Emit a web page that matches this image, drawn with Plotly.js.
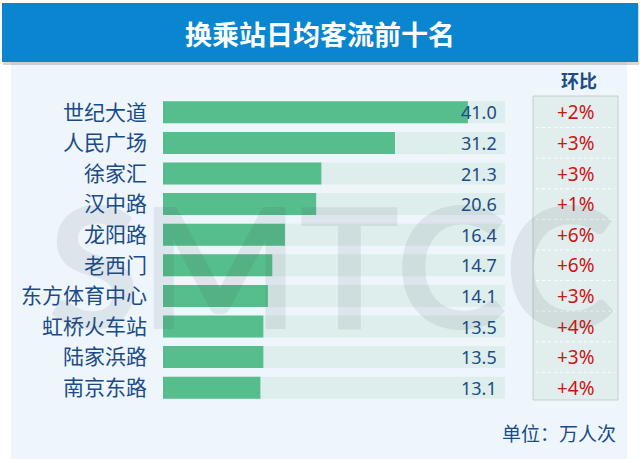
<!DOCTYPE html>
<html>
<head>
<meta charset="utf-8">
<script src="https://cdn.plot.ly/plotly-3.0.1.min.js"></script>
<style>html,body{margin:0;padding:0;background:#fff;}#chart{width:640px;height:459px;}</style>
</head>
<body>
<div id="chart"></div>
<script>
// ---- data ----
const stations = ['世纪大道','人民广场','徐家汇','汉中路','龙阳路','老西门','东方体育中心','虹桥火车站','陆家浜路','南京东路'];
const flows = [41.0, 31.2, 21.3, 20.6, 16.4, 14.7, 14.1, 13.5, 13.5, 13.1];
const changes = ['+2%','+3%','+3%','+1%','+6%','+6%','+3%','+4%','+3%','+4%'];
const trackMax = 46;
const chartTitle = '换乘站日均客流前十名';
const changeHeader = '环比';
const unitNote = '单位：万人次';
const watermark = 'SMTCC';

// ---- layout geometry (pixels) ----
const W = 640, H = 459;
const L = 163, R = 505, T = 97, B = 403;
const px = v => (v - L) / (R - L);
const py = v => (B - v) / (B - T);

const CJK = '"Noto Sans CJK SC", "Noto Sans", sans-serif';
const NUM = '"Noto Sans", "Noto Sans CJK SC", sans-serif';
const blueText = '#1b4b88';
const redText = '#cc1414';

const trackTrace = {
  type: 'bar', orientation: 'h',
  y: stations, x: stations.map(() => trackMax),
  marker: {color: 'rgb(222,238,236)'},
  hoverinfo: 'skip', showlegend: false
};
const barTrace = {
  type: 'bar', orientation: 'h',
  y: stations, x: flows,
  marker: {color: 'rgb(86,189,140)'},
  showlegend: false
};

const shapes = [
  {type:'rect', xref:'paper', yref:'paper', x0:px(11), x1:px(627), y0:py(470), y1:py(62),
   fillcolor:'#eef6fc', line:{width:0}, layer:'below'},
  {type:'rect', xref:'paper', yref:'paper', x0:px(3), x1:px(639), y0:py(65), y1:py(5),
   fillcolor:'rgba(0,0,0,0.16)', line:{width:0}, layer:'below'},
  {type:'rect', xref:'paper', yref:'paper', x0:px(2), x1:px(638), y0:py(62), y1:py(3),
   fillcolor:'#0a86d0', line:{width:0}, layer:'below'},
  {type:'rect', xref:'paper', yref:'paper', x0:px(533), x1:px(618), y0:py(400), y1:py(96),
   fillcolor:'rgb(225,238,237)', line:{width:1, color:'rgb(196,206,206)'}, layer:'below'}
];
for (let i = 0; i < stations.length - 1; i++) {
  shapes.push({type:'line', xref:'paper', yref:'y', x0:px(536), x1:px(615), y0:i+0.5, y1:i+0.5,
    line:{color:'rgba(255,255,255,0.95)', width:1, dash:'dot'}, layer:'below'});
}

const annotations = [
  {text: chartTitle, xref:'paper', yref:'paper', x:px(320), y:py(33), xanchor:'center', yanchor:'middle',
   showarrow:false, font:{family:CJK, size:27, color:'#ffffff', weight:'bold'}},
  {text: changeHeader, xref:'paper', yref:'paper', x:px(579), y:py(80), xanchor:'center', yanchor:'middle',
   showarrow:false, font:{family:CJK, size:18, color:blueText, weight:'bold'}},
  {text: unitNote, xref:'paper', yref:'paper', x:px(618), y:py(432), xanchor:'right', yanchor:'middle',
   showarrow:false, font:{family:CJK, size:19, color:blueText}}
];
stations.forEach((s, i) => {
  annotations.push({text: flows[i].toFixed(1), xref:'x', yref:'y', x:trackMax, y:s, xanchor:'right', yanchor:'middle',
    xshift:-6, showarrow:false, font:{family:NUM, size:18, color:blueText}});
  annotations.push({text: changes[i], xref:'paper', yref:'y', x:px(576), y:s, xanchor:'center', yanchor:'middle',
    showarrow:false, font:{family:NUM, size:19, color:redText}});
});
annotations.push({text: watermark, xref:'paper', yref:'paper', x:px(331), y:py(264), xanchor:'center', yanchor:'middle',
  showarrow:false, font:{family:'Lato, "Liberation Sans", sans-serif',
  size:168, weight:'bold', color:'rgba(70,80,85,0.10)'}});

const layout = {
  width: W, height: H,
  margin: {l:L, r:W-R, t:T, b:H-B, pad:0},
  paper_bgcolor:'#ffffff', plot_bgcolor:'rgba(0,0,0,0)',
  barmode:'overlay', bargap:0.28,
  xaxis: {range:[0, trackMax], showgrid:false, zeroline:false, showticklabels:false, showline:false, fixedrange:true},
  yaxis: {type:'category', autorange:'reversed', showgrid:false, zeroline:false, showline:false,
          ticks:'', ticklabelstandoff:15, tickfont:{family:CJK, size:21, color:blueText}, fixedrange:true},
  shapes: shapes,
  annotations: annotations,
  font: {family: CJK}
};

Plotly.newPlot('chart', [trackTrace, barTrace], layout, {displayModeBar:false, staticPlot:true});
</script>
</body>
</html>
